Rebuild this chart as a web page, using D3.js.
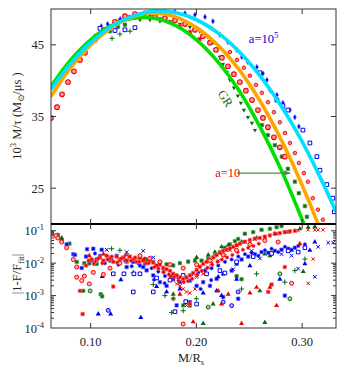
<!DOCTYPE html>
<html>
<head>
<meta charset="utf-8">
<script src="https://cdn.jsdelivr.net/npm/d3@7"></script>
<style>
  body { margin: 0; background: #fff; }
  text { font-family: "Liberation Serif", "DejaVu Serif", serif; }
</style>
</head>
<body>
<svg id="chart" width="358" height="376"></svg>
<script>
// ---- fit curves ----
const fitX = [0.0625, 0.08, 0.10, 0.12, 0.14, 0.16, 0.18, 0.20, 0.22, 0.24, 0.26, 0.28, 0.30, 0.32, 0.332];
const fitGR = [39.2, 42.7, 45.7, 47.7, 48.7, 48.7, 47.7, 45.7, 42.7, 38.7, 33.6, 27.6, 20.6, 13.0, 8.0];
const fitA10 = [37.8, 41.6, 45.0, 47.4, 48.9, 49.4, 48.9, 47.4, 45.0, 41.6, 37.2, 31.8, 25.4, 18.1, 13.0];
const fitA1e5 = [38.8, 42.2, 45.3, 47.6, 49.0, 49.7, 49.5, 48.5, 46.7, 44.1, 40.7, 36.5, 31.5, 25.6, 21.7];

// ---- top panel data: [M/R, 10^3 M/tau] ----
const redRing = [[0.0625,34.8],[0.0682,36.3],[0.0729,38.1],[0.0786,39.8],[0.0842,41.3],[0.0899,42.9],[0.0946,43.9],[0.1041,45.7],[0.1135,47.1],[0.1230,48.2],[0.1324,49.0],[0.1419,49.3],[0.1513,49.4],[0.1608,49.0],[0.1702,48.7],[0.1797,48.4],[0.1892,47.9],[0.1986,47.1],[0.2062,46.2],[0.2128,45.3],[0.2185,44.3],[0.2241,43.2],[0.2298,42.0],[0.2355,40.9],[0.2411,39.8],[0.2468,38.6],[0.2525,37.3],[0.2582,35.9],[0.2629,34.8],[0.2676,33.5],[0.2733,32.1],[0.2789,30.7],[0.2837,29.4]];
const redSqTop = [[0.1135,46.9],[0.1183,47.6],[0.1277,48.4],[0.1372,48.9],[0.1466,49.2],[0.1561,49.2],[0.1655,48.6],[0.1750,48.2],[0.1845,47.6],[0.1940,46.8],[0.2030,45.8]];
const redDot = [[0.2317,44.0],[0.2383,42.9],[0.2449,41.8],[0.2506,40.7],[0.2563,39.4],[0.2619,38.3],[0.2676,37.0],[0.2733,35.6],[0.2789,34.2],[0.2837,32.7],[0.2884,31.3],[0.2931,29.9],[0.2969,28.5],[0.3016,27.1],[0.3054,25.9],[0.3101,23.6],[0.3149,22.0],[0.3196,20.6]];
const blueSqTop = [[0.1088,47.3],[0.1230,47.0],[0.1324,47.1],[0.1419,47.4],[0.2600,41.1],[0.2761,37.3],[0.2818,36.5],[0.2865,35.9],[0.3007,33.1],[0.3073,31.3],[0.3139,29.4],[0.3168,27.5],[0.3233,25.5],[0.3290,23.6],[0.3305,21.7]];
const blueSmallTop = [[0.1513,49.2],[0.1608,49.4],[0.1702,49.6],[0.1797,49.6],[0.1892,49.4],[0.1986,49.2],[0.2081,48.9],[0.2156,48.3],[0.2222,46.4],[0.2298,45.4],[0.2383,44.3],[0.2430,43.3],[0.2487,42.6],[0.2572,41.9],[0.2629,41.0],[0.2667,40.1],[0.2695,38.7],[0.2761,38.0],[0.2818,36.9],[0.2884,35.9],[0.2931,34.9],[0.2969,33.6],[0.1040,46.2],[0.1100,47.6],[0.1160,47.9],[0.1280,48.6]];
const greenTri = [[0.1466,48.5],[0.1561,48.5],[0.1655,48.3],[0.1750,48.2],[0.1844,47.9],[0.1939,47.5],[0.2033,46.9],[0.2109,46.1],[0.2156,45.3],[0.2194,44.3],[0.2222,43.3],[0.2251,42.3],[0.2288,41.2],[0.2317,40.1],[0.2355,39.0],[0.2392,37.9],[0.2421,36.9],[0.2449,35.9],[0.2487,34.9],[0.2525,34.1],[0.2553,33.1]];
const greenSqTop = [[0.1183,46.9],[0.1258,47.5],[0.1324,47.8],[0.2619,33.8],[0.2676,32.4],[0.2742,31.0],[0.2808,29.4],[0.2865,27.7],[0.2931,25.9],[0.2969,24.3],[0.3026,22.5],[0.3045,21.0]];
const greenPlusTop = [[0.1202,45.9],[0.1277,46.5],[0.1372,46.9]];

// ---- bottom panel data: [M/R, |1-F/Ffit|] ----
const redSqRes = [[0.0956,0.0085],[0.1009,0.013],[0.1041,0.011],[0.1088,0.015],[0.1120,0.012],[0.1151,0.017],[0.1183,0.014],[0.1214,0.011],[0.1246,0.016],[0.1277,0.013],[0.1309,0.015],[0.1340,0.012],[0.1372,0.016],[0.1403,0.013],[0.1435,0.011],[0.1466,0.015],[0.1497,0.012],[0.1529,0.010],[0.1560,0.013],[0.1592,0.0105],[0.1624,0.0085],[0.1655,0.009],[0.1686,0.0072],[0.1718,0.0065],[0.1750,0.0058],[0.1781,0.0047],[0.1813,0.0042],[0.1844,0.0037],[0.1875,0.0032],[0.1906,0.0036],[0.1938,0.0042],[0.1970,0.0050],[0.2002,0.0062],[0.2033,0.0078],[0.2064,0.0095],[0.2096,0.0110],[0.2128,0.013],[0.2160,0.015],[0.2191,0.018],[0.2222,0.021],[0.2253,0.024],[0.2285,0.026],[0.2317,0.029],[0.2348,0.032],[0.2380,0.036],[0.2411,0.040],[0.2458,0.046],[0.2506,0.052],[0.2553,0.057],[0.2600,0.060],[0.2647,0.066],[0.2695,0.072],[0.2742,0.081],[0.2789,0.085],[0.2836,0.091],[0.2884,0.096],[0.2931,0.100],[0.0899,0.0014],[0.0924,0.00027],[0.1214,0.0019],[0.2836,0.0076],[0.2679,0.0013],[0.2711,0.0022],[0.1938,0.00055]];
const redDotRes = [[0.0980,0.0120],[0.1030,0.0095],[0.1070,0.0140],[0.1110,0.0100],[0.1160,0.0130],[0.1200,0.0160],[0.1250,0.0105],[0.1290,0.0140],[0.1330,0.0170],[0.1380,0.0120],[0.1420,0.0150],[0.1460,0.0110],[0.1510,0.0140],[0.1550,0.0100],[0.1600,0.0075],[0.1640,0.0068],[0.1690,0.0052],[0.1740,0.0045],[0.1790,0.0038],[0.1830,0.0029],[0.1880,0.0026],[0.1920,0.0028],[0.1960,0.0033],[0.2010,0.0045],[0.2050,0.0058],[0.2100,0.0070],[0.2150,0.0090],[0.2200,0.0110],[0.2240,0.0130],[0.2290,0.0150],[0.2340,0.0180],[0.2390,0.0220],[0.2440,0.0260],[0.2490,0.0300],[0.2540,0.0340],[0.2590,0.0400]];
const redXRes = [[0.1497,0.013],[0.1560,0.012],[0.1624,0.0085],[0.1686,0.0059],[0.1750,0.0037],[0.1781,0.0030],[0.1813,0.0023],[0.1844,0.0020],[0.1875,0.0016],[0.1906,0.0013],[0.1938,0.0012],[0.1986,0.0016],[0.2002,0.0037],[0.2064,0.0047],[0.2112,0.0076],[0.2144,0.0100],[0.2206,0.012],[0.2269,0.017],[0.2317,0.025],[0.2383,0.035],[0.2458,0.045],[0.2553,0.056],[0.2647,0.062],[0.2758,0.081],[0.2836,0.091],[0.2962,0.102],[0.3057,0.107],[0.3120,0.107],[0.3151,0.107],[0.3198,0.107],[0.3104,0.0134],[0.3057,0.0024],[0.1781,0.0008],[0.1906,0.0005]];
const redCircRes = [[0.0631,0.085],[0.0672,0.071],[0.0690,0.060],[0.0726,0.045],[0.0773,0.030],[0.0836,0.013],[0.0868,0.0076],[0.0868,0.0037],[0.0915,0.0029],[0.0987,0.0023],[0.0940,0.0040],[0.1025,0.0052],[0.1120,0.0045],[0.1183,0.0070],[0.1277,0.0100],[0.1340,0.0150],[0.1466,0.0170],[0.1560,0.0140],[0.1655,0.0110],[0.1750,0.0090],[0.1875,0.0070],[0.2002,0.0090],[0.2128,0.0120],[0.2253,0.0180],[0.2380,0.0250],[0.2506,0.0380],[0.2647,0.050],[0.2773,0.045],[0.1875,0.000132],[0.2900,0.0024]];
const redTriRes = [[0.0987,0.017],[0.1120,0.019],[0.2238,0.00055],[0.2427,0.000138],[0.2978,0.040],[0.2506,0.0012],[0.2569,0.0018],[0.2695,0.0018],[0.2758,0.00049],[0.2301,0.0011],[0.2206,0.0014],[0.1844,0.0011],[0.1970,0.000155]];
const blueSqRes = [[0.0773,0.038],[0.0836,0.019],[0.0852,0.018],[0.0915,0.0071],[0.0956,0.016],[0.0966,0.027],[0.1025,0.028],[0.1104,0.026],[0.1057,0.013],[0.1009,0.012],[0.1166,0.015],[0.1246,0.017],[0.1340,0.0076],[0.1403,0.011],[0.1466,0.0085],[0.1497,0.0076],[0.1529,0.006],[0.1592,0.0042],[0.1655,0.0026],[0.1718,0.0020],[0.1781,0.0032],[0.1844,0.0026],[0.1938,0.0029],[0.2002,0.0020],[0.2064,0.0026],[0.2128,0.0020],[0.2191,0.0033],[0.2253,0.0047],[0.2333,0.0059],[0.2380,0.0095],[0.2427,0.013],[0.2490,0.016],[0.2553,0.019],[0.2616,0.022],[0.2679,0.021],[0.2742,0.024],[0.2805,0.026],[0.2868,0.028],[0.2931,0.030],[0.2836,0.0010],[0.2253,0.0009],[0.1813,0.0005],[0.1938,0.00063],[0.2395,0.0008]];
const blueDotRes = [[0.1041,0.020],[0.1088,0.017],[0.1135,0.010],[0.1198,0.013],[0.1262,0.009],[0.1325,0.012],[0.1388,0.008],[0.1451,0.010],[0.1514,0.0095],[0.1577,0.007],[0.1640,0.0055],[0.1703,0.004],[0.1766,0.0042],[0.1829,0.0035],[0.1892,0.0038],[0.1955,0.0045],[0.2018,0.0052],[0.2081,0.0060],[0.2144,0.0070],[0.2207,0.0085],[0.2270,0.011],[0.2333,0.013],[0.2396,0.016],[0.2459,0.019],[0.2522,0.021],[0.2585,0.017],[0.2648,0.025],[0.2711,0.028],[0.2774,0.022],[0.2837,0.032],[0.2900,0.026],[0.2963,0.034],[0.3026,0.038],[0.2140,0.0030],[0.2040,0.0016],[0.1700,0.0024],[0.1600,0.0031]];
const blueOpenSqRes = [[0.1214,0.0047],[0.1315,0.0047],[0.1409,0.0047],[0.1466,0.0047],[0.1403,0.0013],[0.1592,0.0013],[0.2002,0.00055],[0.2096,0.0047],[0.2222,0.0059],[0.2380,0.0110],[0.2537,0.016],[0.2711,0.020],[0.2868,0.024],[0.2962,0.022],[0.3026,0.030],[0.1624,0.0035],[0.1750,0.0030],[0.1875,0.0042],[0.2269,0.0050],[0.1797,0.00032],[0.1899,0.00065]];
const blueTriRes = [[0.1072,0.00027],[0.1189,0.00027],[0.1475,0.00021],[0.1110,0.0039],[0.1286,0.0031],[0.2191,0.0014],[0.2238,0.0010],[0.2380,0.0032],[0.2789,0.0032],[0.3026,0.0095],[0.3120,0.045],[0.3073,0.025],[0.2506,0.0083],[0.1624,0.0019],[0.1718,0.0013],[0.1844,0.0016],[0.2064,0.0012],[0.2206,0.0038]];
const bluePlusRes = [[0.1592,0.015],[0.1152,0.026],[0.1340,0.022],[0.1497,0.024],[0.2000,0.0042],[0.2348,0.0065],[0.2600,0.014],[0.2805,0.019],[0.2900,0.017],[0.3151,0.032],[0.3246,0.043],[0.3293,0.043],[0.2962,0.0068],[0.3120,0.0038],[0.2522,0.024]];
const blueRingRes = [[0.1166,0.00035],[0.2253,0.00063],[0.2333,0.00049],[0.2395,0.0013]];
const greenSqRes = [[0.0631,0.090],[0.0690,0.075],[0.0726,0.052],[0.0799,0.040],[0.0868,0.011],[0.0940,0.010],[0.0987,0.0098],[0.1057,0.0095],[0.1120,0.011],[0.1183,0.012],[0.1277,0.013],[0.1340,0.011],[0.1403,0.012],[0.1466,0.014],[0.1529,0.012],[0.1592,0.011],[0.1655,0.0105],[0.1718,0.0092],[0.1781,0.0085],[0.1844,0.0100],[0.1922,0.0112],[0.1986,0.0120],[0.2049,0.0120],[0.2112,0.014],[0.2175,0.017],[0.2222,0.022],[0.2269,0.030],[0.2317,0.038],[0.2364,0.048],[0.2395,0.056],[0.2458,0.081],[0.2537,0.091],[0.2616,0.107],[0.2695,0.115],[0.2758,0.129],[0.2805,0.141],[0.1095,0.0011],[0.0930,0.0014],[0.1875,0.0005],[0.1938,0.00049],[0.2380,0.0040],[0.2427,0.0032],[0.1109,0.00095]];
const greenTriRes = [[0.0726,0.060],[0.2002,0.015],[0.2112,0.018],[0.2175,0.022],[0.2238,0.032],[0.2301,0.036],[0.2427,0.045],[0.2569,0.060],[0.2742,0.081],[0.2868,0.091],[0.2978,0.115],[0.3057,0.129],[0.3120,0.134],[0.2647,0.019],[0.2695,0.017],[0.2900,0.025],[0.2600,0.0014],[0.2647,0.000148],[0.2064,0.000138],[0.1781,0.0011],[0.2158,0.00055],[0.3010,0.0055]];
const greenPlusRes = [[0.1198,0.028],[0.1277,0.025],[0.1340,0.019],[0.1428,0.014],[0.1529,0.013],[0.1702,0.0010],[0.1781,0.0008],[0.1875,0.00034],[0.1766,0.0003],[0.2000,0.0008],[0.2427,0.0016],[0.2931,0.0059],[0.3026,0.0134],[0.2836,0.0026],[0.2569,0.0047],[0.1592,0.0022],[0.1403,0.0052]];
const greenRingRes = [[0.0995,0.0014],[0.2112,0.00044],[0.2884,0.0008],[0.2789,0.0047]];

// ticks / annotations
const xTicks = [0.10, 0.20, 0.30];
const yTopTicks = [25, 35, 45];
const yBotTicks = [1e-4, 1e-3, 1e-2, 1e-1];
const arrowFrom = [0.2385, 27.1], arrowTo = [0.2885, 27.1];
const labelA10 = [0.2415, 26.6], labelA1e5 = [0.2496, 45.3], labelGR = [0.2241, 37.2];

const pLeft = 51, pRight = 336, pTop = 9, pMid = 224, pBottom = 328;
const svg = d3.select("#chart");

const x = d3.scaleLinear().domain([0.0625, 0.332]).range([pLeft, pRight]);
const yTop = d3.scaleLinear().domain([20, 50]).range([pMid, pTop]);
const yBot = d3.scaleLog().domain([1e-4, 0.162]).range([pBottom, pMid]);

const defs = svg.append("defs");
defs.append("clipPath").attr("id", "clipTop").append("rect")
  .attr("x", pLeft).attr("y", pTop).attr("width", pRight - pLeft).attr("height", pMid - pTop);
defs.append("clipPath").attr("id", "clipBot").append("rect")
  .attr("x", pLeft).attr("y", pMid).attr("width", pRight - pLeft).attr("height", pBottom - pMid);
defs.append("marker").attr("id", "arr").attr("viewBox", "0 0 10 10")
  .attr("refX", 9).attr("refY", 5).attr("markerWidth", 5).attr("markerHeight", 5)
  .attr("orient", "auto").append("path").attr("d", "M0,1 L10,5 L0,9 Z").attr("fill", "#4c8f4c");

const gTop = svg.append("g").attr("clip-path", "url(#clipTop)");
const gBot = svg.append("g").attr("clip-path", "url(#clipBot)");

function pts(g, data, ys, type, size, fill, stroke, sw, rot) {
  g.selectAll(null).data(data).enter().append("path")
    .attr("transform", d => `translate(${x(d[0])},${ys(d[1])})` + (rot ? ` rotate(${rot})` : ""))
    .attr("d", d3.symbol().type(type).size(size))
    .attr("fill", fill).attr("stroke", stroke || "none").attr("stroke-width", sw || 1);
}
const symPlus = d3.symbolPlus || d3.symbolCross;
const symTimes = d3.symbolTimes || d3.symbolCross;

const RED = "#f00000", BLUE = "#0000f0", GREEN = "#0a6a0a";

// top panel points
pts(gTop, greenTri, yTop, d3.symbolTriangle, 8, GREEN, null, 0, 180);
pts(gTop, greenSqTop, yTop, d3.symbolSquare, 13, GREEN, "#5fa85f", 0.7);
pts(gTop, greenPlusTop, yTop, symPlus, 10, "none", GREEN, 1);
pts(gTop, redSqTop, yTop, d3.symbolSquare, 13, RED, "#ff7070", 0.7);
pts(gTop, redRing, yTop, d3.symbolCircle, 17, "#ffa0a0", RED, 1.1);
pts(gTop, redDot, yTop, d3.symbolCircle, 10, "#ff8080", RED, 0.9);
pts(gTop, blueSmallTop, yTop, d3.symbolDiamond, 9, BLUE, "#7070ff", 0.5);
pts(gTop, blueSqTop, yTop, d3.symbolSquare, 14, "#fff", BLUE, 1);

// fit curves
const line = d3.line().x((d, i) => x(fitX[i])).y(d => yTop(d)).curve(d3.curveCatmullRom);
[[fitGR, "#00e000"], [fitA10, "#ffa500"], [fitA1e5, "#00e0ff"]].forEach(([ys, c]) => {
  gTop.append("path").attr("d", line(ys)).attr("fill", "none")
    .attr("stroke", c).attr("stroke-width", 3.6);
});

// bottom panel points
pts(gBot, greenSqRes, yBot, d3.symbolSquare, 12, GREEN, "#5fa85f", 0.7);
pts(gBot, greenTriRes, yBot, d3.symbolTriangle, 11, GREEN, null, 0);
pts(gBot, greenPlusRes, yBot, symPlus, 10, "none", GREEN, 1);
pts(gBot, greenRingRes, yBot, d3.symbolCircle, 12, "#9fd09f", GREEN, 1);
pts(gBot, blueSqRes, yBot, d3.symbolSquare, 12, BLUE, "#6a6aff", 0.7);
pts(gBot, blueDotRes, yBot, d3.symbolCircle, 10, BLUE, "#6a6aff", 0.6);
pts(gBot, blueOpenSqRes, yBot, d3.symbolSquare, 13, "#fff", BLUE, 1);
pts(gBot, blueTriRes, yBot, d3.symbolTriangle, 11, BLUE, null, 0);
pts(gBot, bluePlusRes, yBot, symTimes, 10, "none", BLUE, 1);
pts(gBot, blueRingRes, yBot, d3.symbolCircle, 12, "#b0b0ff", BLUE, 1);
pts(gBot, redSqRes, yBot, d3.symbolSquare, 12, RED, "#ff7070", 0.7);
pts(gBot, redDotRes, yBot, d3.symbolCircle, 10, RED, "#ff7070", 0.6);
pts(gBot, redXRes, yBot, symTimes, 9, "none", RED, 1);
pts(gBot, redCircRes, yBot, d3.symbolCircle, 13, "#ffb0b0", RED, 1);
pts(gBot, redTriRes, yBot, d3.symbolTriangle, 11, RED, null, 0);

// frames and ticks
const AX = "#333";
svg.append("rect").attr("x", pLeft).attr("y", pTop).attr("width", pRight - pLeft).attr("height", pBottom - pTop)
  .attr("fill", "none").attr("stroke", AX).attr("stroke-width", 1);
svg.append("line").attr("x1", pLeft).attr("x2", pRight).attr("y1", pMid).attr("y2", pMid)
  .attr("stroke", "#000").attr("stroke-width", 2);

const tk = svg.append("g").attr("stroke", AX).attr("stroke-width", 1);
xTicks.forEach(t => {
  [[pTop, 5], [pMid, -5], [pMid, 5], [pBottom, -5]].forEach(([y0, l]) => {
    tk.append("line").attr("x1", x(t)).attr("x2", x(t)).attr("y1", y0).attr("y2", y0 + l);
  });
});
yTopTicks.forEach(t => {
  tk.append("line").attr("x1", pLeft).attr("x2", pLeft + 5).attr("y1", yTop(t)).attr("y2", yTop(t));
  tk.append("line").attr("x1", pRight).attr("x2", pRight - 5).attr("y1", yTop(t)).attr("y2", yTop(t));
});
yBot.ticks().forEach(t => {
  if (t <= 1e-4 || t > 0.162) return;
  const major = Math.abs(Math.log10(t) - Math.round(Math.log10(t))) < 1e-6;
  const l = major ? 5 : 3;
  tk.append("line").attr("x1", pLeft).attr("x2", pLeft + l).attr("y1", yBot(t)).attr("y2", yBot(t));
  tk.append("line").attr("x1", pRight).attr("x2", pRight - l).attr("y1", yBot(t)).attr("y2", yBot(t));
});

// tick labels
const lab = svg.append("g").attr("fill", "#222").attr("font-size", 12.5);
xTicks.forEach(t => {
  lab.append("text").attr("x", x(t)).attr("y", pBottom + 18).attr("text-anchor", "middle").text(d3.format(".2f")(t));
});
yTopTicks.forEach(t => {
  lab.append("text").attr("x", pLeft - 7).attr("y", yTop(t) + 4.5).attr("text-anchor", "end").text(t);
});
yBotTicks.forEach(t => {
  const e = Math.round(Math.log10(t));
  const tx = lab.append("text").attr("x", pLeft - 7).attr("y", yBot(t) + 4.5).attr("text-anchor", "end");
  tx.append("tspan").text("10");
  tx.append("tspan").attr("dy", -5).attr("font-size", 8.5).text(e);
});

// axis titles
const xt = lab.append("text").attr("x", 191).attr("y", 362).attr("text-anchor", "middle");
xt.append("tspan").text("M/R");
xt.append("tspan").attr("dy", 3).attr("font-size", 8.5).text("s");

const yt = lab.append("text").attr("transform", "translate(21,116) rotate(-90)").attr("text-anchor", "middle");
yt.append("tspan").text("10");
yt.append("tspan").attr("dy", -5).attr("font-size", 8.5).text("3");
yt.append("tspan").attr("dy", 5).text(" M/\u03c4 (M");
yt.append("tspan").attr("dy", 3).attr("font-size", 8.5).text("\u2299");
yt.append("tspan").attr("dy", -3).text("/\u03bcs )");

const yb = lab.append("text").attr("transform", "translate(21,274) rotate(-90)").attr("text-anchor", "middle");
yb.append("tspan").text("|1-F/F");
yb.append("tspan").attr("dy", 3).attr("font-size", 8.5).text("fit");
yb.append("tspan").attr("dy", -3).text("|");

// annotations
svg.append("line").attr("x1", x(arrowFrom[0])).attr("y1", yTop(arrowFrom[1]))
  .attr("x2", x(arrowTo[0])).attr("y2", yTop(arrowTo[1]))
  .attr("stroke", "#4c8f4c").attr("stroke-width", 1.3).attr("marker-end", "url(#arr)");
svg.append("text").attr("x", x(labelA10[0])).attr("y", yTop(labelA10[1])).attr("text-anchor", "end")
  .attr("fill", "#f00000").attr("font-size", 12.5).text("a=10");
const a5 = svg.append("text").attr("x", x(labelA1e5[0])).attr("y", yTop(labelA1e5[1]))
  .attr("fill", "#0000e0").attr("font-size", 12.5);
a5.append("tspan").text("a=10");
a5.append("tspan").attr("dy", -5).attr("font-size", 8.5).text("5");
svg.append("text").attr("transform", `translate(${x(labelGR[0])},${yTop(labelGR[1])}) rotate(57)`)
  .attr("text-anchor", "middle").attr("fill", "#1a6a1a").attr("font-size", 12.5).text("GR");
</script>
</body>
</html>
